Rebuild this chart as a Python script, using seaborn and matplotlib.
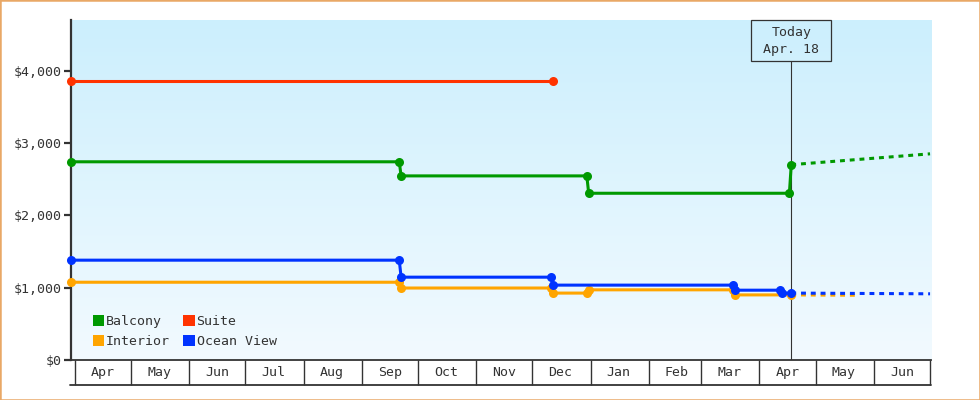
import numpy as np
import pandas as pd
import matplotlib
matplotlib.use("Agg")
import matplotlib.pyplot as plt
import matplotlib.dates as mdates
import matplotlib.transforms as mtransforms
from matplotlib.patches import Patch, Rectangle
from matplotlib.lines import Line2D
import seaborn as sns

# ---- price history per cabin type (step changes recorded on consecutive days) ----
balcony_dates = ["2018-03-30", "2018-09-21", "2018-09-22", "2018-12-30", "2018-12-31",
                 "2019-04-17", "2019-04-18"]
balcony_prices = [2740, 2740, 2545, 2545, 2305, 2305, 2700]

suite_dates = ["2018-03-30", "2018-12-12"]
suite_prices = [3850, 3850]

interior_dates = ["2018-03-30", "2018-09-21", "2018-09-22", "2018-12-11", "2018-12-12",
                  "2018-12-30", "2018-12-31", "2019-03-18", "2019-03-19", "2019-04-18"]
interior_prices = [1075, 1075, 995, 995, 925, 925, 970, 970, 900, 900]

ocean_dates = ["2018-03-30", "2018-09-21", "2018-09-22", "2018-12-11", "2018-12-12",
               "2019-03-18", "2019-03-19", "2019-04-12", "2019-04-13", "2019-04-18"]
ocean_prices = [1380, 1380, 1145, 1145, 1035, 1035, 965, 965, 925, 925]

# ---- projected prices after today ----
balcony_fc_dates = ["2019-04-18", "2019-07-01"]
balcony_fc_prices = [2700, 2850]
interior_fc_dates = ["2019-04-18", "2019-05-22"]
interior_fc_prices = [900, 895]
ocean_fc_dates = ["2019-04-18", "2019-07-01"]
ocean_fc_prices = [925, 915]

cabins = ["Balcony", "Suite", "Interior", "Ocean View"]
colors = {"Balcony": "#009900", "Suite": "#ff3300",
          "Interior": "#ffa500", "Ocean View": "#0033ff"}

today_date = "2019-04-18"
today_label = ["Today", "Apr. 18"]
y_ticks = [0, 1000, 2000, 3000, 4000]
y_tick_labels = ["$0", "$1,000", "$2,000", "$3,000", "$4,000"]
x_start, x_end = "2018-03-30", "2019-07-01 12:00"

history = pd.concat([
    pd.DataFrame({"date": pd.to_datetime(d), "price": p, "cabin": c})
    for c, d, p in [("Balcony", balcony_dates, balcony_prices),
                    ("Suite", suite_dates, suite_prices),
                    ("Interior", interior_dates, interior_prices),
                    ("Ocean View", ocean_dates, ocean_prices)]
], ignore_index=True)

forecast = pd.concat([
    pd.DataFrame({"date": pd.to_datetime(d), "price": p, "cabin": c})
    for c, d, p in [("Balcony", balcony_fc_dates, balcony_fc_prices),
                    ("Interior", interior_fc_dates, interior_fc_prices),
                    ("Ocean View", ocean_fc_dates, ocean_fc_prices)]
], ignore_index=True)

sns.set_theme(style="white")
plt.rcParams["font.family"] = ["DejaVu Sans Mono", "DejaVu Sans"]
ink = "#333333"
fs = 9.5

fig = plt.figure(figsize=(9.8, 4.0), dpi=100)
ax = fig.add_axes([71 / 980, 40 / 400, 860 / 980, 340 / 400])

# soft vertical gradient behind the plot
grad = np.linspace(0, 1, 256).reshape(-1, 1)
top_c = np.array([204, 239, 253]) / 255
bot_c = np.array([242, 250, 255]) / 255
img = top_c * (1 - grad[..., None]) + bot_c * grad[..., None]
img = img.reshape(256, 1, 3)
ax.imshow(img, extent=[0, 1, 0, 1], transform=ax.transAxes, aspect="auto", zorder=0)

# forecasts first (under the history lines)
for cabin in ["Balcony", "Interior", "Ocean View"]:
    sub = forecast[forecast["cabin"] == cabin]
    sns.lineplot(data=sub, x="date", y="price", ax=ax, color=colors[cabin],
                 linewidth=2.2, linestyle=(0, (1.6, 1.6)), estimator=None,
                 sort=False, zorder=3, legend=False)

for cabin in cabins:
    sub = history[history["cabin"] == cabin]
    sns.lineplot(data=sub, x="date", y="price", ax=ax, color=colors[cabin],
                 linewidth=2.2, marker="o", markersize=6.5, markeredgewidth=0,
                 estimator=None, sort=False, zorder=4, legend=False)
for ln in ax.lines:
    ln.set_clip_on(False)

ax.set_xlim(pd.Timestamp(x_start), pd.Timestamp(x_end))
ax.set_ylim(0, 4700)
ax.set_xlabel("")
ax.set_ylabel("")

# y axis
ax.set_yticks(y_ticks)
ax.set_yticklabels(y_tick_labels)
ax.tick_params(axis="y", direction="out", length=5, width=1.6, color=ink,
               labelsize=fs, labelcolor=ink, pad=1.5, left=True)

# x axis: one box per month, label centred in each
ax.xaxis.set_major_locator(mdates.MonthLocator(bymonthday=1))
ax.xaxis.set_major_formatter(plt.NullFormatter())
ax.xaxis.set_minor_locator(mdates.MonthLocator(bymonthday=16))
ax.xaxis.set_minor_formatter(mdates.DateFormatter("%b"))
ax.tick_params(axis="x", which="major", direction="out", length=18, width=1.0,
               color=ink, bottom=True)
ax.tick_params(axis="x", which="minor", length=0, labelsize=fs, labelcolor=ink,
               pad=4.5, bottom=True)

for side in ["top", "right"]:
    ax.spines[side].set_visible(False)
ax.spines["left"].set_color(ink)
ax.spines["left"].set_linewidth(1.6)
ax.spines["bottom"].set_color(ink)
ax.spines["bottom"].set_linewidth(1.3)
ax.grid(False)

fig.add_artist(Line2D([70 / 980, 931 / 980], [15 / 400, 15 / 400],
                      transform=fig.transFigure, color=ink, linewidth=1.3))

# today marker with its label box
today = pd.Timestamp(today_date)
box_bottom = (360 - 60.5) / 340
ax.axvline(today, ymin=0, ymax=box_bottom, color=ink, linewidth=0.8, zorder=2)
blend = mtransforms.blended_transform_factory(ax.transData, ax.transAxes)
x0, x1 = ax.get_xlim()
days_per_px = (x1 - x0) / 860.0
half_w = 40 * days_per_px
tnum = mdates.date2num(today)
ax.add_patch(Rectangle((tnum - half_w, box_bottom), 2 * half_w, 1.0 - box_bottom,
                       transform=blend, fill=False, edgecolor=ink, linewidth=0.9,
                       clip_on=False, zorder=5))
ax.text(tnum, (360 - 32.5) / 340, today_label[0], transform=blend, ha="center",
        va="center", fontsize=fs, color=ink, zorder=6)
ax.text(tnum, (360 - 49.5) / 340, today_label[1], transform=blend, ha="center",
        va="center", fontsize=fs, color=ink, zorder=6)

# legend, two columns in the lower-left corner
handles = [Patch(facecolor=colors[c], edgecolor="none", label=c)
           for c in ["Balcony", "Interior", "Suite", "Ocean View"]]
leg = ax.legend(handles=handles, ncol=2, loc="upper left",
                bbox_to_anchor=((93 - 71) / 860, (360 - 315) / 340),
                frameon=False, fontsize=fs, handlelength=0.85, handleheight=0.85,
                handletextpad=0.15, columnspacing=1.0, labelspacing=0.55,
                borderpad=0, borderaxespad=0)
for t in leg.get_texts():
    t.set_color(ink)

# thin orange frame around the whole image
fig.add_artist(Rectangle((0, 0), 1, 1, transform=fig.transFigure, fill=False,
                         edgecolor="#e9a866", linewidth=1.8, clip_on=False))

fig.savefig("out.png", dpi=100)
